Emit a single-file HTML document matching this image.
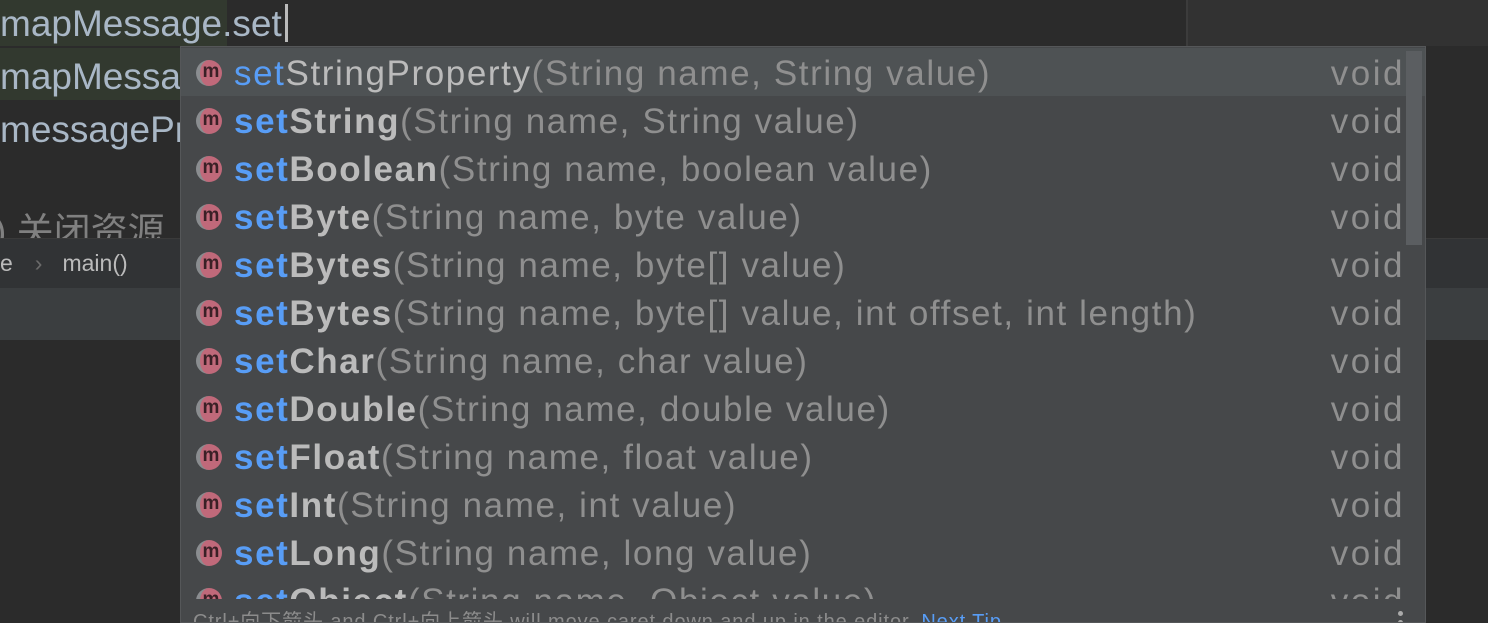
<!DOCTYPE html>
<html><head><meta charset="utf-8"><style>
*{margin:0;padding:0;box-sizing:border-box}
html,body{width:1488px;height:623px;overflow:hidden}
body{background:#2b2b2b;position:relative;font-family:"Liberation Sans","Noto Sans CJK SC",sans-serif}
.abs{position:absolute}
.code{font-size:37px;color:#a9b7c6;line-height:48px;white-space:nowrap}
#pop{left:180px;top:46px;width:1246px;height:577px;background:#46484a;border:1px solid #555759;overflow:hidden}
.row{position:absolute;left:0;width:1246px;height:48px;line-height:52px;font-size:35px;letter-spacing:1.6px;white-space:nowrap;color:#8f8f8f}
.row .ic{position:absolute;left:15px;top:12px;width:26px;height:26px;border-radius:50%;background:#c0697a;border-left:4px solid #8a8d90;color:#3a2026;font-size:19px;letter-spacing:0;line-height:24px;text-align:center;font-weight:bold}
.row .t{position:absolute;left:53px;top:0}
.s{color:#589df6}
.b{font-weight:bold}
.b .n{color:#bbbbbb}
.v{position:absolute;right:22px;top:0;color:#8f8f8f;letter-spacing:2.5px}
</style></head><body>
<div class="abs" style="left:0;top:0;width:1186px;height:46px;background:#2b2b2b"></div>
<div class="abs" style="left:1186px;top:0;width:302px;height:46px;background:#323232;border-left:2px solid #3c3c3c"></div>
<div class="abs" style="left:0;top:0;width:227px;height:46px;background:#32392f"></div>
<div class="abs" style="left:0;top:48px;width:180px;height:52px;background:#32392f"></div>
<div class="abs code" style="left:0;top:0">mapMessage.set</div>
<div class="abs" style="left:285px;top:4px;width:3px;height:38px;background:#bbbbbb"></div>
<div class="abs code" style="left:0;top:53px">mapMessage</div>
<div class="abs code" style="left:0;top:106px">messageProducer</div>
<div class="abs" style="left:0;top:200px;height:38px;overflow:hidden"><div class="code" style="color:#808080;line-height:64px;margin-left:-6px">) 关闭资源</div></div>
<div class="abs" style="left:0;top:238px;width:1488px;height:50px;background:#313335;border-top:1px solid #3a3a3a"></div>
<div class="abs" style="left:0;top:238px;font-size:23px;line-height:50px;color:#bbbbbb;white-space:nowrap">e<span style="color:#6b6b6b;margin:0 20px 0 22px">›</span>main()</div>
<div class="abs" style="left:0;top:288px;width:1488px;height:52px;background:#3b3e40"></div>
<div id="pop" class="abs">
<div class="row" style="top:1px;background:#4e5254"><span class="ic">m</span><span class="t"><span class="s">set</span><span style="color:#bbbbbb">StringProperty</span>(String name, String value)</span><span class="v">void</span></div>
<div class="row" style="top:49px"><span class="ic">m</span><span class="t b"><span class="s">set</span><span class="n">String</span><span style="font-weight:normal">(String name, String value)</span></span><span class="v">void</span></div>
<div class="row" style="top:97px"><span class="ic">m</span><span class="t b"><span class="s">set</span><span class="n">Boolean</span><span style="font-weight:normal">(String name, boolean value)</span></span><span class="v">void</span></div>
<div class="row" style="top:145px"><span class="ic">m</span><span class="t b"><span class="s">set</span><span class="n">Byte</span><span style="font-weight:normal">(String name, byte value)</span></span><span class="v">void</span></div>
<div class="row" style="top:193px"><span class="ic">m</span><span class="t b"><span class="s">set</span><span class="n">Bytes</span><span style="font-weight:normal">(String name, byte[] value)</span></span><span class="v">void</span></div>
<div class="row" style="top:241px"><span class="ic">m</span><span class="t b"><span class="s">set</span><span class="n">Bytes</span><span style="font-weight:normal">(String name, byte[] value, int offset, int length)</span></span><span class="v">void</span></div>
<div class="row" style="top:289px"><span class="ic">m</span><span class="t b"><span class="s">set</span><span class="n">Char</span><span style="font-weight:normal">(String name, char value)</span></span><span class="v">void</span></div>
<div class="row" style="top:337px"><span class="ic">m</span><span class="t b"><span class="s">set</span><span class="n">Double</span><span style="font-weight:normal">(String name, double value)</span></span><span class="v">void</span></div>
<div class="row" style="top:385px"><span class="ic">m</span><span class="t b"><span class="s">set</span><span class="n">Float</span><span style="font-weight:normal">(String name, float value)</span></span><span class="v">void</span></div>
<div class="row" style="top:433px"><span class="ic">m</span><span class="t b"><span class="s">set</span><span class="n">Int</span><span style="font-weight:normal">(String name, int value)</span></span><span class="v">void</span></div>
<div class="row" style="top:481px"><span class="ic">m</span><span class="t b"><span class="s">set</span><span class="n">Long</span><span style="font-weight:normal">(String name, long value)</span></span><span class="v">void</span></div>
<div class="row" style="top:529px;height:23px;overflow:hidden"><span class="ic">m</span><span class="t b"><span class="s">set</span><span class="n">Object</span><span style="font-weight:normal">(String name, Object value)</span></span><span class="v">void</span></div>
<div class="abs" style="left:1225px;top:4px;width:16px;height:194px;background:#5b5e61"></div>
<div class="abs" style="left:12px;top:563px;font-size:20px;letter-spacing:0.9px;line-height:24px;color:#8c8c8c;white-space:nowrap">Ctrl+向下箭头 and Ctrl+向上箭头 will move caret down and up in the editor. <span style="color:#589df6">Next Tip</span></div>
<div class="abs" style="left:1217px;top:564px;width:5px;height:5px;border-radius:50%;background:#aaa"></div>
<div class="abs" style="left:1217px;top:573px;width:5px;height:5px;border-radius:50%;background:#aaa"></div>
</div>
</body></html>
